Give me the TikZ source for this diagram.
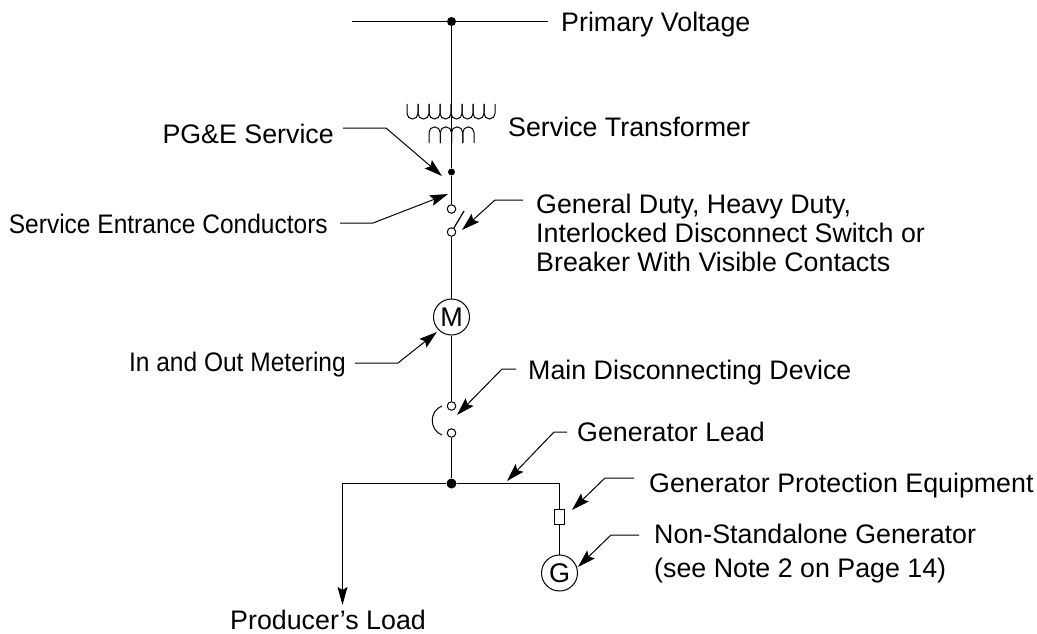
\documentclass[tikz,border=0pt]{standalone}
\usepackage{fontspec}
\setmainfont{Liberation Sans}
\newfontfamily\narrowfont[FakeStretch=0.915]{Liberation Sans}
\usetikzlibrary{arrows.meta}
\tikzset{
	lbl/.style={inner sep=0pt,align=left,font=\fontsize{26.8}{29}\selectfont},
	lblnarrow/.style={inner sep=0pt,font=\fontsize{26.8}{29}\selectfont\narrowfont},
	wire/.style={line width=1.2pt},
	leader/.style={line width=1pt,-{Stealth[length=18pt,width=11pt,inset=3pt]}},
	term/.style={circle,draw,line width=1pt,fill=white,inner sep=0pt,minimum size=8.5pt},
	dotnode/.style={circle,fill=black,inner sep=0pt,minimum size=#1},
	meter/.style={circle,draw,line width=1pt,fill=white,inner sep=0pt,minimum size=36pt,font=\fontsize{27}{29}\selectfont}
}
\begin{document}
\begin{tikzpicture}[x=1pt,y=-1pt]
		\useasboundingbox (0,0) rectangle (1037,634);
		% labels
		\node[lbl,anchor=base west] (primary) at (561,32) {Primary Voltage};
		\node[lbl,anchor=base west] (transformer) at (508,136) {Service Transformer};
		\node[lbl,anchor=base east] (pge) at (334,143) {PG\&E Service};
		\node[lblnarrow,anchor=base east] (entrance) at (328,233) {Service Entrance Conductors};
		\node[lbl,anchor=west] (switch) at (536,233) {General Duty, Heavy Duty,\\Interlocked Disconnect Switch or\\Breaker With Visible Contacts};
		\node[lblnarrow,anchor=base east] (metering) at (346,371) {In and Out Metering};
		\node[lbl,anchor=base west] (disconnect) at (528,379) {Main Disconnecting Device};
		\node[lbl,anchor=base west] (genlead) at (577,441) {Generator Lead};
		\node[lbl,anchor=base west] (protection) at (649,492) {Generator Protection Equipment};
		\node[lbl,anchor=west] (nonstandalone) at (654,554) {Non-Standalone Generator\\[5pt](see Note 2 on Page 14)};
		\node[lbl,anchor=base west] (load) at (230,629) {Producer's Load};
		% main line
		\coordinate (busl) at (352,21.5);
		\coordinate (busr) at (548,21.5);
		\node[dotnode=9pt] (busdot) at (451.5,21.5) {};
		\node[dotnode=7pt] (svcdot) at (451.5,172) {};
		\node[term] (swtop) at (451.5,209) {};
		\node[term] (swbot) at (451.5,232) {};
		\node[meter] (M) at (451.5,317) {M};
		\node[term] (dctop) at (451.5,406) {};
		\node[term] (dcbot) at (451.5,433) {};
		\node[dotnode=10pt] (junction) at (451.5,483.5) {};
		\node[draw,line width=1pt,inner sep=0pt,minimum width=10pt,minimum height=15pt] (fuse) at (559.5,516.5) {};
		\node[meter] (G) at (559.5,573) {G};
		\coordinate (loadcorner) at (342.5,483.5);
		\coordinate (loadend) at (342.5,605);
		\coordinate (gencorner) at (559.5,483.5);
		\coordinate (bladeend) at (464,211);
		\draw[wire] (busl) -- (busr);
		\draw[wire] (busdot) -- (svcdot);
		\draw[wire] (svcdot) -- (swtop);
		\draw[wire] (swbot) -- (M);
		\draw[wire] (M) -- (dctop);
		\draw[wire] (dcbot) -- (junction);
		\draw[wire] (swbot) -- (bladeend);
		\draw[wire] (junction) -- (gencorner) -- (fuse);
		\draw[wire] (fuse) -- (G);
		\draw[wire,-{Stealth[length=18pt,width=10pt,inset=3pt]}] (junction) -- (loadcorner) -- (loadend);
		% transformer coils
		\foreach \i in {0,...,7}
			\draw[line width=1pt] (407+11*\i,104) -- ++(0,9.5) arc[start angle=180,end angle=0,radius=5.5] -- ++(0,-9.5);
		\foreach \i in {0,...,3}
			\draw[line width=1pt] (429+11.25*\i,143) -- ++(0,-10.5) arc[start angle=180,end angle=360,radius=5.625] -- ++(0,10.5);
		% breaker arc
		\coordinate (dcarca) at (442,406);
		\coordinate (dcarcb) at (442,435);
		\draw[line width=1pt] (dcarca) .. controls (429,411) and (429,430) .. (dcarcb);
		% leaders
		\coordinate (pgea) at (343,128);
		\coordinate (pgeb) at (386,128);
		\coordinate (pgetip) at (442,176);
		\coordinate (enta) at (340,223);
		\coordinate (entb) at (373,223);
		\coordinate (enttip) at (448,194);
		\coordinate (swa) at (523,200);
		\coordinate (swb) at (495,200);
		\coordinate (swtip) at (462,230);
		\coordinate (meta) at (355,363);
		\coordinate (metb) at (398,363);
		\coordinate (mettip) at (437,332);
		\coordinate (dca) at (516,369);
		\coordinate (dcb) at (502,369);
		\coordinate (dctip) at (457,415);
		\coordinate (leada) at (567,432);
		\coordinate (leadb) at (554,432);
		\coordinate (leadtip) at (507,481);
		\coordinate (prota) at (634,478);
		\coordinate (protb) at (605,478);
		\coordinate (prottip) at (572,510);
		\coordinate (nona) at (639,535);
		\coordinate (nonb) at (611,535);
		\coordinate (nontip) at (578,567);
		\draw[leader] (pgea) -- (pgeb) -- (pgetip);
		\draw[leader] (enta) -- (entb) -- (enttip);
		\draw[leader] (swa) -- (swb) -- (swtip);
		\draw[leader] (meta) -- (metb) -- (mettip);
		\draw[leader] (dca) -- (dcb) -- (dctip);
		\draw[leader] (leada) -- (leadb) -- (leadtip);
		\draw[leader] (prota) -- (protb) -- (prottip);
		\draw[leader] (nona) -- (nonb) -- (nontip);
		\end{tikzpicture}
\end{document}
